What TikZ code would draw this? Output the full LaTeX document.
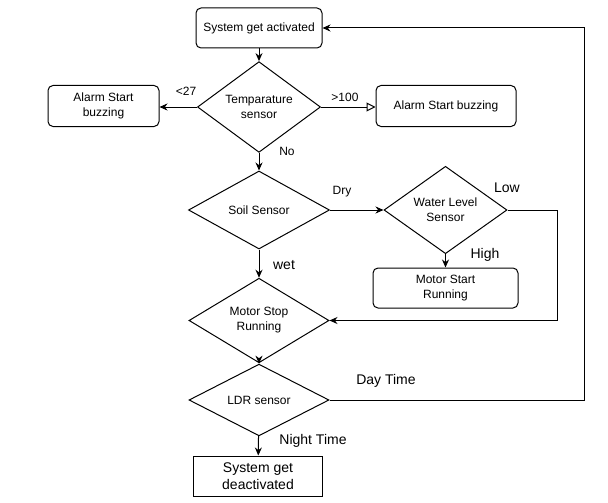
\documentclass[tikz,border=0pt]{standalone}
\usepackage{fontspec}
\setmainfont{Liberation Sans}
\usetikzlibrary{shapes.geometric,arrows.meta}

\begin{document}
\begin{tikzpicture}[x=1pt, y=-1pt, line width=1pt,
    box/.style={draw, rounded corners=5pt, align=center, inner sep=1pt,
      font=\fontsize{12}{15}\selectfont},
    decision/.style={draw, diamond, inner sep=0pt, align=center,
      font=\fontsize{12}{15}\selectfont},
    lbl/.style={font=\fontsize{12}{14}\selectfont},
    biglbl/.style={font=\fontsize{14}{16}\selectfont},
    flow/.style={-{Stealth[length=8pt, width=7pt]}}]
  \useasboundingbox (0,0) rectangle (608,503);

  % ---------- start and temperature check ----------
  \node[box, minimum width=126pt, minimum height=40pt] (start) at (259,28) {System get activated};
  \node[decision, minimum width=123pt, minimum height=80pt] (temp) at (259,107) {Temparature\\sensor};
  \node[box, minimum width=111pt, minimum height=41pt] (alarmL) at (103.5,106) {Alarm Start\\buzzing};
  \node[box, minimum width=140pt, minimum height=41pt] (alarmR) at (446,106) {Alarm Start buzzing};

  % ---------- soil and water level ----------
  \node[decision, minimum width=141pt, minimum height=78pt] (soil) at (259,210) {Soil Sensor};
  \node[decision, minimum width=123pt, minimum height=80pt] (water) at (445.5,210) {Water Level\\Sensor};
  \node[box, minimum width=145pt, minimum height=40pt] (motorstart) at (445.5,288) {Motor Start\\Running};
  \node[decision, minimum width=140pt, minimum height=71pt] (motorstop) at (259,320.5) {Motor Stop\\Running};

  % ---------- light sensor and end ----------
  \node[decision, minimum width=140pt, minimum height=60pt] (ldr) at (259,400) {LDR sensor};
  \node[draw, align=center, inner sep=1pt, minimum width=129pt, minimum height=40pt,
    font=\fontsize{14}{17}\selectfont] (stopbox) at (258,476) {System get\\deactivated};

  % connectors
  \draw[flow] (start) -- (temp);
  \draw[flow] (temp.west) -- (alarmL.east |- temp.west);
  \draw[-{Triangle[open, length=9pt, width=9pt]}] (temp.east) -- (alarmR.west |- temp.east);
  \draw[flow] (temp) -- (soil);
  \draw[flow] (soil.east) -- (water.west);
  \draw[flow] (water) -- (motorstart);
  \draw[flow] (water.east) -- ++(50,0) |- (motorstop.east);
  \draw[flow] (soil) -- (motorstop);
  \draw[flow] (motorstop) -- (ldr);
  \draw[flow] (ldr) -- (stopbox);
  \draw[flow] (ldr.east) -- ++(255,0) |- (start.east);

  % branch labels
  \node[lbl] (lt27) at (186,91) {<27};
  \node[lbl] (gt100) at (345,97) {>100};
  \node[lbl] (no) at (287,151) {No};
  \node[lbl] (dry) at (342,192) {Dry};
  \node[biglbl] (low) at (507,188) {Low};
  \node[biglbl] (high) at (485,255) {High};
  \node[biglbl] (wet) at (284,265) {wet};
  \node[biglbl] (day) at (386,381) {Day Time};
  \node[biglbl] (night) at (313,441) {Night Time};
\end{tikzpicture}
\end{document}
